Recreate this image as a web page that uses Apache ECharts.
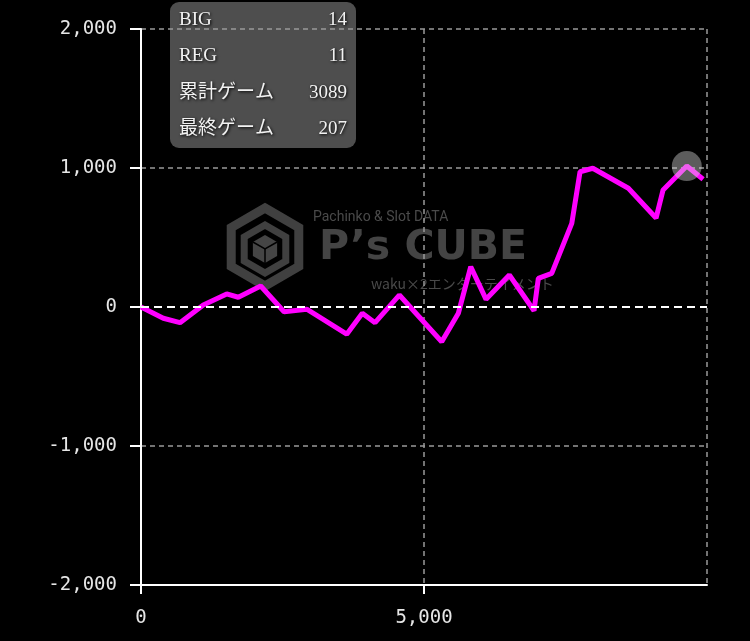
<!DOCTYPE html>
<html>
<head>
<meta charset="utf-8">
<script src="https://cdn.jsdelivr.net/npm/echarts@6/dist/echarts.min.js"></script>
<style>
  html, body { margin: 0; padding: 0; background: #000; }
  #main { width: 750px; height: 641px; }
</style>
</head>
<body>
<div id="main"></div>
<script>
// 差枚グラフ: ゲーム数 / 差枚数
var gameX = [0, 394, 689, 1101, 1514, 1719, 2115, 2527, 2928, 3635, 3910, 4135, 4564, 5313, 5607,
             5826, 6096, 6508, 6944, 7020, 7257, 7611, 7757, 7982, 8611, 9100, 9224, 9643, 9931];
var diffY = [0, -81, -113, 14, 94, 70, 151, -34, -16, -196, -45, -113, 86, -250, -45,
             290, 55, 230, -27, 206, 242, 602, 973, 998, 854, 640, 842, 1014, 919];
var statLabels = ['BIG', 'REG', '累計ゲーム', '最終ゲーム'];
var statValues = ['14', '11', '3089', '207'];

var chart = echarts.init(document.getElementById('main'));

var lineData = [];
for (var i = 0; i < gameX.length; i++) {
    lineData.push([gameX[i], diffY[i]]);
}

// 左上の情報ボックス
var boxItems = [{
    type: 'rect', z: -1,
    shape: {x: 170, y: 2, width: 186, height: 146, r: 9},
    style: {fill: '#4e4e4e'}
}];
statLabels.forEach(function(label, idx){
    var y = 20 + idx * 36.5;
    var txtStyle = {
        fill: '#f2f2f2', fontSize: 19,
        fontFamily: '"Liberation Serif", "Noto Sans CJK JP", serif',
        textShadowColor: '#000', textShadowBlur: 3, textShadowOffsetX: 1, textShadowOffsetY: 1,
        textVerticalAlign: 'middle'
    };
    boxItems.push({type: 'text', z: -1, x: 179, y: y,
        style: Object.assign({text: label, textAlign: 'left'}, txtStyle)});
    boxItems.push({type: 'text', z: -1, x: 347, y: y,
        style: Object.assign({text: statValues[idx], textAlign: 'right'}, txtStyle)});
});

// 透かしロゴ
function hexPoints(cx, cy, r){
    var pts = [];
    for (var k = 0; k < 6; k++) {
        var a = Math.PI / 180 * (60 * k - 90);
        pts.push([cx + r * Math.cos(a), cy + r * Math.sin(a)]);
    }
    return pts;
}
var cx = 265, cy = 247;
var cubePts = hexPoints(cx, cy + 2, 14);
var logo = [
    {type: 'polygon', z: -2, shape: {points: hexPoints(cx, cy, 39)}, style: {fill: null, stroke: '#404040', lineWidth: 9}},
    {type: 'polygon', z: -2, shape: {points: hexPoints(cx, cy + 2, 24)}, style: {fill: null, stroke: '#404040', lineWidth: 7}},
    {type: 'polygon', z: -2, shape: {points: cubePts}, style: {fill: '#454545'}},
    {type: 'polyline', z: -2, shape: {points: [cubePts[5], [cx, cy + 2], cubePts[1]]}, style: {stroke: '#000', lineWidth: 1.5, fill: null}},
    {type: 'line', z: -2, shape: {x1: cx, y1: cy + 2, x2: cubePts[3][0], y2: cubePts[3][1]}, style: {stroke: '#000', lineWidth: 1.5}},
    {type: 'text', z: -2, x: 313, y: 217, style: {text: 'Pachinko & Slot DATA', fill: '#4a4a4a', fontSize: 14, fontFamily: 'Roboto', textVerticalAlign: 'middle'}},
    {type: 'text', z: -2, x: 319, y: 248, style: {text: 'P’s CUBE', fill: '#444', fontSize: 41, fontWeight: 'bold', fontFamily: '"DejaVu Sans"', textVerticalAlign: 'middle'}},
    {type: 'text', z: -2, x: 371, y: 284, style: {text: 'waku×2エンターテイメント', fill: '#4a4a4a', fontSize: 14, fontFamily: '"Noto Sans CJK JP"', textVerticalAlign: 'middle'}}
];

var labelStyle = {
    color: '#e6e6e6',
    fontSize: 19,
    fontFamily: '"DejaVu Sans Mono", monospace'
};

var option = {
    backgroundColor: '#000',
    animation: false,
    grid: {left: 141, right: 43, top: 29, bottom: 56},
    graphic: logo.concat(boxItems),
    xAxis: {
        type: 'value',
        min: 0, max: 10000, interval: 5000,
        axisLine: {onZero: false, lineStyle: {color: '#fff', width: 2}},
        axisTick: {show: true, length: 9, lineStyle: {color: '#fff', width: 2}},
        axisLabel: Object.assign({margin: 24, showMaxLabel: false}, labelStyle),
        splitLine: {show: true, lineStyle: {color: '#999', type: [5, 4], width: 1.5}}
    },
    yAxis: {
        type: 'value',
        min: -2000, max: 2000, interval: 1000,
        axisLine: {show: true, onZero: false, lineStyle: {color: '#fff', width: 2}},
        axisTick: {show: true, length: 11, lineStyle: {color: '#fff', width: 2}},
        axisLabel: Object.assign({margin: 24}, labelStyle),
        // 0 の線は markLine で白く引くので分割線は透明に
        splitLine: {show: true, lineStyle: {color: ['#999', '#999', 'rgba(0,0,0,0)', '#999', '#999'], type: [5, 4], width: 1.5}}
    },
    series: [{
        type: 'line',
        data: lineData,
        showSymbol: false,
        symbol: 'none',
        lineStyle: {color: '#ff00ff', width: 5},
        markLine: {
            silent: true, symbol: ['none', 'none'], label: {show: false},
            lineStyle: {color: '#fff', type: [8, 5], width: 2, opacity: 1},
            data: [{yAxis: 0}]
        },
        markPoint: {
            symbol: 'circle', symbolSize: 30, silent: true,
            itemStyle: {color: 'rgba(220,220,220,0.42)'},
            label: {show: false},
            data: [{type: 'max'}]
        }
    }]
};
chart.setOption(option);
</script>
</body>
</html>
